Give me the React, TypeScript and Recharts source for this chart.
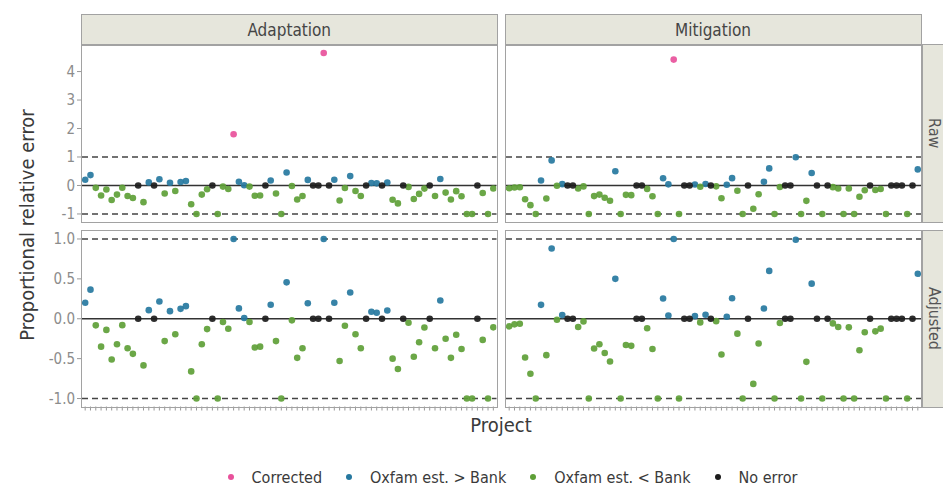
import React from 'react';
import { ScatterChart, Scatter, XAxis, YAxis, ReferenceLine } from 'recharts';

const FONT = "'DejaVu Sans Condensed', 'Liberation Sans Narrow', 'DejaVu Sans', sans-serif";

// 78 projects per column (discrete x)
const projects = Array.from({ length: 78 }, (_, i) => i + 1);

// adjusted proportional relative error
const adaptationValues = [
  0.2, 0.365, -0.083, -0.35, -0.14, -0.51, -0.32, -0.08, -0.37, -0.44,
  0, -0.585, 0.108, 0, 0.216, -0.28, 0.095, -0.195, 0.124, 0.158,
  -0.66, -1, -0.32, -0.13, 0, -1, -0.04, -0.125, 1.0, 0.13,
  0.01, -0.04, -0.36, -0.35, 0, 0.175, -0.28, -1, 0.456, -0.02,
  -0.49, -0.37, 0.195, 0, 0, 1.0, 0, 0.2, -0.53, -0.087,
  0.33, -0.195, -0.37, 0, 0.087, 0.075, 0, 0.104, -0.5, -0.63,
  0, -0.05, -0.477, -0.295, -0.11, 0, -0.37, 0.228, -0.25, -0.49,
  -0.2, -0.38, -1, -1, 0, -0.265, -1, -0.108,
];
const mitigationValues = [
  -0.095, -0.07, -0.062, -0.485, -0.69, -1, 0.174, -0.456, 0.88, -0.012,
  0.046, 0, 0, -0.104, -0.033, -1, -0.373, -0.32, -0.43, -0.535,
  0.5, -1, -0.33, -0.34, 0, 0, -0.12, -0.38, -1, 0.253,
  0.04, 1.0, -1, 0, 0, 0.033, -0.046, 0.05, 0, -0.03,
  -0.448, 0.025, 0.257, -0.187, -1, 0, -0.817, -0.31, 0.129, 0.6,
  -1, -0.054, 0, 0, 0.99, -1, -0.54, 0.44, 0, -1,
  0, -0.058, -0.104, -1, -0.108, -1, -0.394, -0.17, 0, -0.158,
  -0.124, -1, 0, 0, 0, -1, 0, 0.564,
];

// projects whose raw value was corrected, and the raw value
const adaptationCorrected = [29, 46];
const adaptationCorrectedRaw = [1.8, 4.65];
const mitigationCorrected = [32];
const mitigationCorrectedRaw = [4.42];

const categories = ['Corrected', 'Oxfam est. > Bank', 'Oxfam est. < Bank', 'No error'];
const colors = ['#e8519b', '#26789f', '#5e9f37', '#1c1c1c'];

const rawTicks = [-1, 0, 1, 2, 3, 4];
const adjustedTicks = [-1, -0.5, 0, 0.5, 1];

const signCat = (v: number) => (v > 0 ? 1 : v < 0 ? 2 : 3);

function buildPoints(values: number[], corrected: number[], correctedRaw: number[], raw: boolean) {
  const groups: { x: number; y: number }[][] = [[], [], [], []];
  projects.forEach((p, i) => {
    const ci = corrected.indexOf(p);
    if (raw && ci >= 0) groups[0].push({ x: p, y: correctedRaw[ci] });
    else groups[signCat(values[i])].push({ x: p, y: values[i] });
  });
  return groups;
}

const expand = (lo: number, hi: number): [number, number] => {
  const pad = (hi - lo) * 0.05;
  return [lo - pad, hi + pad];
};
const allRaw = [...adaptationValues, ...mitigationValues, ...adaptationCorrectedRaw, ...mitigationCorrectedRaw];
const rawDomain = expand(Math.min(...allRaw), Math.max(...allRaw));
const adjustedDomain = expand(-1, 1);
const xDomain: [number, number] = [projects[0] - 0.6, projects[projects.length - 1] + 0.6];

const EmptyTick = () => <g />;

const COLS = [
  { x0: 82, x1: 496.5 },
  { x0: 505.5, x1: 920.5 },
];
const ROWS = [
  { y0: 44.5, y1: 221.5 },
  { y0: 231, y1: 406.5 },
];

function Panel({ col, row, values, corrected, correctedRaw }: any) {
  const raw = row === 0;
  const { x0, x1 } = COLS[col];
  const { y0, y1 } = ROWS[row];
  const showY = col === 0;
  const showX = row === 1;
  const groups = buildPoints(values, corrected, correctedRaw, raw);
  const chartLeft = showY ? 0 : x0;
  const width = x1 - chartLeft;
  const xAxisH = showX ? 10 : 0;
  const height = y1 - y0 + xAxisH;
  return (
    <>
      <div style={{ position: 'absolute', left: chartLeft, top: y0 }}>
        <ScatterChart width={width} height={height} margin={{ top: 0, right: 0, bottom: 0, left: 0 }}>
          <XAxis
            type="number"
            dataKey="x"
            domain={xDomain}
            ticks={projects}
            interval={0}
            allowDataOverflow
            hide={!showX}
            height={xAxisH}
            axisLine={false}
            tickSize={4}
            tickLine={{ stroke: '#999' }}
            tick={<EmptyTick />}
          />
          <YAxis
            type="number"
            dataKey="y"
            domain={raw ? rawDomain : adjustedDomain}
            ticks={raw ? rawTicks : adjustedTicks}
            interval={0}
            allowDataOverflow
            hide={!showY}
            width={x0}
            axisLine={false}
            tickSize={5}
            tickLine={{ stroke: '#999' }}
            tickFormatter={(v: number) => (raw ? String(v) : v.toFixed(1))}
            tick={{ fill: '#8c8c8c', fontSize: 15, fontFamily: FONT }}
          />
          <ReferenceLine y={1} stroke="#444" strokeWidth={1.5} strokeDasharray="6 4" />
          <ReferenceLine y={-1} stroke="#444" strokeWidth={1.5} strokeDasharray="6 4" />
          <ReferenceLine y={0} stroke="#333" strokeWidth={1.6} />
          {groups.map((pts, k) =>
            pts.length ? (
              <Scatter
                key={categories[k]}
                name={categories[k]}
                data={pts}
                fill={colors[k]}
                isAnimationActive={false}
                shape={(p: any) => <circle cx={p.cx} cy={p.cy} r={3.3} fill={colors[k]} fillOpacity={0.92} />}
              />
            ) : null
          )}
        </ScatterChart>
      </div>
      <div
        style={{
          position: 'absolute',
          left: x0 - 1,
          top: y0 - 1,
          width: x1 - x0 + 2,
          height: y1 - y0 + 2,
          boxSizing: 'border-box',
          border: '1.5px solid #a2a2a2',
          pointerEvents: 'none',
        }}
      />
    </>
  );
}

const stripStyle: React.CSSProperties = {
  position: 'absolute',
  boxSizing: 'border-box',
  background: '#e6e6dc',
  border: '1.5px solid #a2a2a2',
  color: '#454545',
  fontFamily: FONT,
  fontSize: 17,
  display: 'flex',
  alignItems: 'center',
  justifyContent: 'center',
};

const columnNames = ['Adaptation', 'Mitigation'];
const rowNames = ['Raw', 'Adjusted'];

export default function App() {
  const data = [
    { values: adaptationValues, corrected: adaptationCorrected, correctedRaw: adaptationCorrectedRaw },
    { values: mitigationValues, corrected: mitigationCorrected, correctedRaw: mitigationCorrectedRaw },
  ];
  return (
    <div
      style={{
        position: 'absolute',
        left: 0,
        top: 0,
        width: 943,
        height: 487,
        overflow: 'hidden',
        background: '#fff',
        fontFamily: FONT,
      }}
    >
      {columnNames.map((name, c) => (
        <div
          key={name}
          style={{ ...stripStyle, left: COLS[c].x0 - 1, top: 14, width: COLS[c].x1 - COLS[c].x0 + 2, height: 31.5 }}
        >
          {name}
        </div>
      ))}
      {rowNames.map((name, r) => (
        <div
          key={name}
          style={{
            ...stripStyle,
            left: 921.5,
            top: ROWS[r].y0 - 1,
            width: 30,
            height: ROWS[r].y1 - ROWS[r].y0 + 2,
            justifyContent: 'flex-start',
            paddingLeft: 2,
            fontSize: 16,
          }}
        >
          <span style={{ writingMode: 'vertical-rl', color: '#555', lineHeight: '18px' }}>{name}</span>
        </div>
      ))}
      {[0, 1].map((r) =>
        [0, 1].map((c) => <Panel key={`${r}-${c}`} row={r} col={c} {...data[c]} />)
      )}
      <div
        style={{
          position: 'absolute',
          left: 27,
          top: 225,
          transform: 'translate(-50%, -50%) rotate(-90deg)',
          whiteSpace: 'nowrap',
          fontSize: 20,
          color: '#3a3a3a',
        }}
      >
        Proportional relative error
      </div>
      <div
        style={{
          position: 'absolute',
          left: 501,
          top: 425,
          transform: 'translate(-50%, -50%)',
          fontSize: 20,
          color: '#3a3a3a',
        }}
      >
        Project
      </div>
      <div
        style={{
          position: 'absolute',
          left: 82,
          width: 861,
          top: 466,
          height: 22,
          display: 'flex',
          justifyContent: 'center',
          alignItems: 'center',
          fontSize: 16,
          color: '#3a3a3a',
        }}
      >
        {categories.map((name, k) => (
          <div key={name} style={{ display: 'flex', alignItems: 'center', marginRight: k < 3 ? 24 : 0 }}>
            <span
              style={{
                display: 'inline-block',
                width: 6,
                height: 6,
                borderRadius: 3,
                background: colors[k],
                marginRight: 18,
              }}
            />
            <span>{name}</span>
          </div>
        ))}
      </div>
    </div>
  );
}
